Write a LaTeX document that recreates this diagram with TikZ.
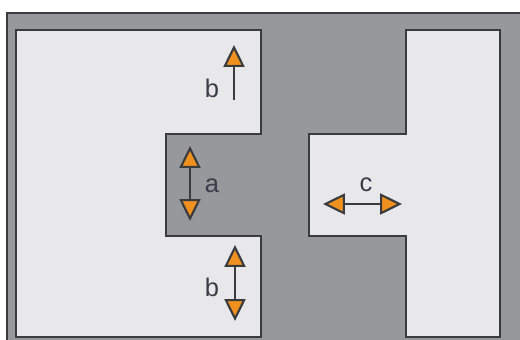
\documentclass[tikz,border=0pt]{standalone}
\usepackage{fontspec}
\setmainfont{Liberation Sans}
\usetikzlibrary{arrows.meta}
\definecolor{slot}{HTML}{97989C}
\definecolor{part}{HTML}{E8E8EA}
\definecolor{edge}{HTML}{3A3B3E}
\definecolor{tipfill}{HTML}{F0901E}
\definecolor{ink}{HTML}{3A3D48}
\tikzset{
  outline/.style={draw=edge,line width=0.8pt,line join=miter},
  tipo/.tip={Triangle[width=12pt,length=12.5pt,fill=tipfill]},
  gap/.style={draw=edge,line width=1.2pt},
  letter/.style={font=\fontsize{14.5}{17}\selectfont,text=ink}
}

\begin{document}
\begin{tikzpicture}[x={(0.02cm,0)},y={(0,-0.02cm)}]
    \useasboundingbox (0,0) rectangle (520,339);
    \clip (0,0) rectangle (520,339);
    \def\top{30}
    \def\bot{337}
    \def\notchup{134}
    \def\notchdn{236}

    % FRAME
    \fill[white] (0,0) rectangle (520,339);
    \filldraw[fill=slot,outline] (7,13) rectangle (530,350);

    % LEFT PART
    \filldraw[fill=part,outline] (16,\top) -- (261,\top) -- (261,\notchup) -- (166,\notchup)
      -- (166,\notchdn) -- (261,\notchdn) -- (261,\bot) -- (16,\bot) -- cycle;

    % RIGHT PART
    \filldraw[fill=part,outline] (406,\top) -- (500,\top) -- (500,\bot) -- (406,\bot)
      -- (406,\notchdn) -- (309,\notchdn) -- (309,\notchup) -- (406,\notchup) -- cycle;

    % GAPS
    \coordinate (b1 foot) at (234,100);
    \coordinate (b1 tip) at (234,45);
    \coordinate (a up) at (190,146);
    \coordinate (a dn) at (190,221);
    \coordinate (b2 up) at (235,245);
    \coordinate (b2 dn) at (235,321);
    \coordinate (c left) at (323,204);
    \coordinate (c right) at (402,204);
    \draw[gap,-tipo] (b1 foot) -- (b1 tip);
    \draw[gap,tipo-tipo] (a up) -- (a dn);
    \draw[gap,tipo-tipo] (b2 up) -- (b2 dn);
    \draw[gap,tipo-tipo] (c left) -- (c right);

    % LABELS
    \node[letter] (b1) at (212,88) {b};
    \node[letter] (a) at (212,186) {a};
    \node[letter] (b2) at (212,287) {b};
    \node[letter] (c) at (366,185) {c};
  \end{tikzpicture}
\end{document}
